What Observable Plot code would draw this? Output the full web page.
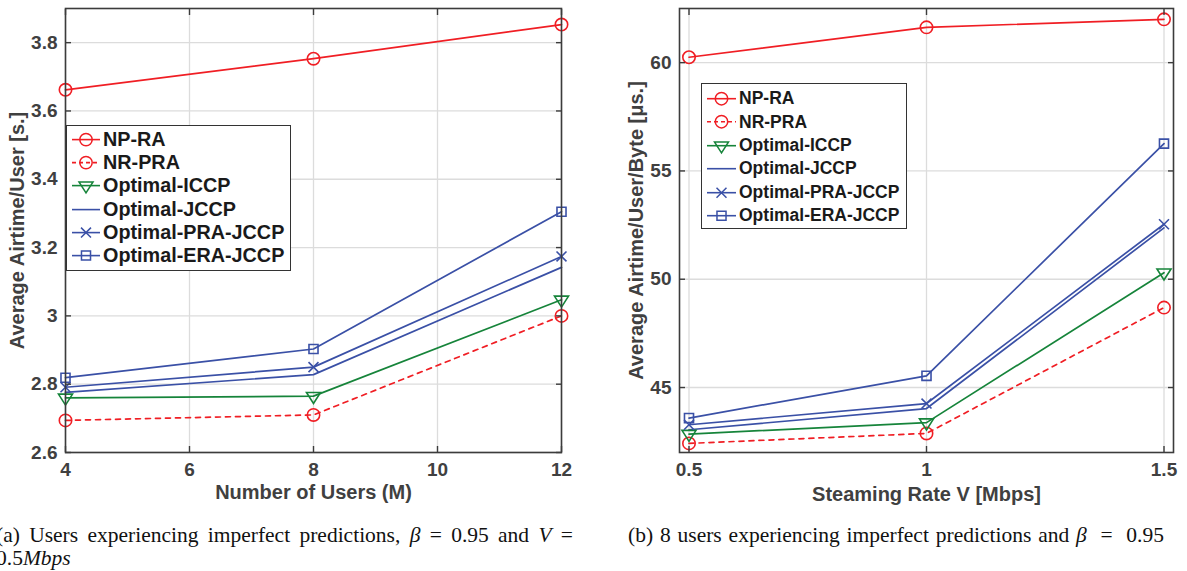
<!DOCTYPE html>
<html><head><meta charset="utf-8">
<script src="https://cdn.jsdelivr.net/npm/d3@7"></script>
<script src="https://cdn.jsdelivr.net/npm/@observablehq/plot@0.6"></script>
<style>
body{margin:0;background:#fff;width:1187px;height:571px;position:relative;overflow:hidden;font-family:"Liberation Sans",Arial,sans-serif;}
.panel{position:absolute;top:0;}
.legend{position:absolute;background:#fff;border:1.5px solid #333;box-sizing:border-box;font-weight:bold;color:#1a1a1a;}
.legend .row{display:flex;align-items:center;white-space:nowrap;}
.legend svg{display:block;flex:none;}
.caption{position:absolute;font-family:"Liberation Serif","Times New Roman",serif;font-size:21.5px;color:#111;line-height:23px;}
</style></head><body>
<div id="left" class="panel" style="left:0"></div>
<div id="right" class="panel" style="left:600px"></div>
<div id="legL" class="legend" style="left:66px;top:125px;width:225px;height:146px;padding-top:2px;font-size:19.8px"></div>
<div id="legR" class="legend" style="left:701px;top:83px;width:206px;height:146px;padding-top:3px;font-size:17.5px"></div>
<div class="caption" style="left:-4px;top:524px;width:577px;text-align:justify;text-align-last:justify">(a) Users experiencing imperfect predictions, <i>β</i>&nbsp;=&nbsp;0.95 and <i>V</i>&nbsp;=<br><span style="float:left">0.5<i>Mbps</i></span></div>
<div class="caption" style="left:628px;top:524px;width:536px;text-align:justify;text-align-last:justify;white-space:nowrap">(b) 8 users experiencing imperfect predictions and <i>β</i>&nbsp;&nbsp;=&nbsp;&nbsp;0.95</div>
<script>
// ---- data ----
const seriesNames = ["NP-RA", "NR-PRA", "Optimal-ICCP", "Optimal-JCCP", "Optimal-PRA-JCCP", "Optimal-ERA-JCCP"];
const usersX = [4, 8, 12];
const usersNPRA = [3.662, 3.753, 3.853];
const usersNRPRA = [2.694, 2.710, 3.000];
const usersICCP = [2.760, 2.765, 3.047];
const usersJCCP = [2.776, 2.828, 3.142];
const usersPRAJCCP = [2.791, 2.850, 3.174];
const usersERAJCCP = [2.819, 2.903, 3.305];
const rateX = [0.5, 1, 1.5];
const rateNPRA = [60.25, 61.63, 62.0];
const rateNRPRA = [42.42, 42.88, 48.69];
const rateICCP = [42.85, 43.38, 50.3];
const rateJCCP = [43.05, 44.03, 52.37];
const ratePRAJCCP = [43.28, 44.26, 52.54];
const rateERAJCCP = [43.59, 45.54, 56.26];
const usersTicksX = [4, 6, 8, 10, 12];
const usersTicksY = [2.6, 2.8, 3, 3.2, 3.4, 3.6, 3.8];
const rateTicksX = [0.5, 1, 1.5];
const rateTicksY = [45, 50, 55, 60];

// ---- styles ----
const RED = "#f01e24", GREEN = "#16843a", BLUE = "#3a50a6";
const triDown = {draw(ctx, size) {
  const r = Math.sqrt(size / Math.PI);
  ctx.moveTo(-1.08 * r, -0.57 * r);
  ctx.lineTo(1.08 * r, -0.57 * r);
  ctx.lineTo(0, 1.12 * r);
  ctx.closePath();
}};
const styles = [
  {color: RED, dash: null, symbol: "circle", r: 6.2},
  {color: RED, dash: "5,5", symbol: "circle", r: 6.2},
  {color: GREEN, dash: null, symbol: triDown, r: 6.5},
  {color: BLUE, dash: null, symbol: null, r: 0},
  {color: BLUE, dash: null, symbol: "times", r: 4.6},
  {color: BLUE, dash: null, symbol: "square", r: 5.1}
];

function table(xs, arrays) {
  const rows = [];
  arrays.forEach((ys, i) => ys.forEach((y, j) => rows.push({x: xs[j], y, series: seriesNames[i]})));
  return rows;
}

function chart(o) {
  const data = table(o.xs, o.arrays);
  const font = {fontSize: 19, fontWeight: "bold"};
  const marks = [
    Plot.gridX(o.xTicks, {stroke: "#dcdcdc", strokeOpacity: 1, strokeWidth: 1.3}),
    Plot.gridY(o.yTicks, {stroke: "#dcdcdc", strokeOpacity: 1, strokeWidth: 1.3})
  ];
  seriesNames.forEach((name, i) => {
    const s = styles[i];
    const d = data.filter(r => r.series === name);
    marks.push(Plot.line(d, {x: "x", y: "y", stroke: s.color, strokeWidth: 1.7, strokeDasharray: s.dash}));
  });
  seriesNames.forEach((name, i) => {
    const s = styles[i];
    if (!s.symbol) return;
    const d = data.filter(r => r.series === name);
    marks.push(Plot.dot(d, {x: "x", y: "y", symbol: s.symbol, r: s.r, stroke: s.color, strokeWidth: 1.6, fill: "none"}));
  });
  marks.push(
    Plot.frame({stroke: "#3c3c3c", strokeWidth: 1.6}),
    Plot.axisX(o.xTicks, {...font, anchor: "bottom", tickSize: -6, tickPadding: 16, stroke: "#3c3c3c", strokeWidth: 1.4, tickFormat: d => `${d}`, label: null}),
    Plot.axisX(o.xTicks, {anchor: "top", tickSize: -6, stroke: "#3c3c3c", strokeWidth: 1.4, tickFormat: () => "", label: null}),
    Plot.axisY(o.yTicks, {...font, anchor: "left", tickSize: -6, tickPadding: 14, stroke: "#3c3c3c", strokeWidth: 1.4, tickFormat: d => `${d}`, label: null}),
    Plot.axisY(o.yTicks, {anchor: "right", tickSize: -6, stroke: "#3c3c3c", strokeWidth: 1.4, tickFormat: () => "", label: null}),
    Plot.axisX(o.xTicks, {anchor: "bottom", fontSize: 20, fontWeight: "bold", tickSize: 0, tickFormat: () => "", label: o.xLabel, labelAnchor: "center", labelOffset: o.xLabelOffset, labelArrow: "none"}),
    Plot.axisY(o.yTicks, {anchor: "left", fontSize: 20, fontWeight: "bold", tickSize: 0, tickFormat: () => "", label: o.yLabel, labelAnchor: "center", labelOffset: o.yLabelOffset, labelArrow: "none"})
  );
  return Plot.plot({
    width: o.width, height: o.height,
    marginLeft: o.ml, marginRight: o.mr, marginTop: o.mt, marginBottom: o.mb,
    x: {type: "linear", domain: o.xDomain},
    y: {type: "linear", domain: o.yDomain},
    style: {fontFamily: '"Liberation Sans", Arial, sans-serif', fontSize: "19px", fontWeight: "bold", color: "#404040", background: "transparent", overflow: "visible"},
    marks
  });
}

document.getElementById("left").append(chart({
  xs: usersX, arrays: [usersNPRA, usersNRPRA, usersICCP, usersJCCP, usersPRAJCCP, usersERAJCCP],
  xDomain: [4, 12], yDomain: [2.6, 3.9], xTicks: usersTicksX, yTicks: usersTicksY,
  width: 580, height: 505, ml: 65, mr: 19, mt: 8, mb: 53,
  xLabel: "Number of Users (M)", yLabel: "Average Airtime/User [s.]", yLabelOffset: 56, xLabelOffset: 46
}));
document.getElementById("right").append(chart({
  xs: rateX, arrays: [rateNPRA, rateNRPRA, rateICCP, rateJCCP, ratePRAJCCP, rateERAJCCP],
  xDomain: [0.48, 1.52], yDomain: [42, 62.5], xTicks: rateTicksX, yTicks: rateTicksY,
  width: 587, height: 505, ml: 79, mr: 14, mt: 8, mb: 53,
  xLabel: "Steaming Rate V [Mbps]", yLabel: "Average Airtime/User/Byte [μs.]", yLabelOffset: 51, xLabelOffset: 48
}));

function legend(el, rowH, sampleW) {
  seriesNames.forEach((name, i) => {
    const s = styles[i];
    const row = document.createElement("div");
    row.className = "row";
    row.style.height = rowH + "px";
    const svg = d3.create("svg").attr("width", sampleW + 8).attr("height", rowH);
    svg.append("line").attr("x1", 5).attr("x2", 5 + sampleW).attr("y1", rowH / 2).attr("y2", rowH / 2)
      .attr("stroke", s.color).attr("stroke-width", 1.6).attr("stroke-dasharray", s.dash ? "4,3" : null);
    if (s.symbol) {
      const type = typeof s.symbol === "string" ? {circle: d3.symbolCircle, times: d3.symbolTimes, square: d3.symbolSquare}[s.symbol] : s.symbol;
      svg.append("path").attr("d", d3.symbol(type, s.r * s.r * Math.PI)())
        .attr("transform", `translate(${5 + sampleW / 2},${rowH / 2})`)
        .attr("fill", "none").attr("stroke", s.color).attr("stroke-width", 1.5);
    }
    row.append(svg.node());
    const t = document.createElement("span");
    t.textContent = name;
    row.append(t);
    el.append(row);
  });
}
legend(document.getElementById("legL"), 23.2, 28);
legend(document.getElementById("legR"), 23.4, 29);
</script>
</body></html>
